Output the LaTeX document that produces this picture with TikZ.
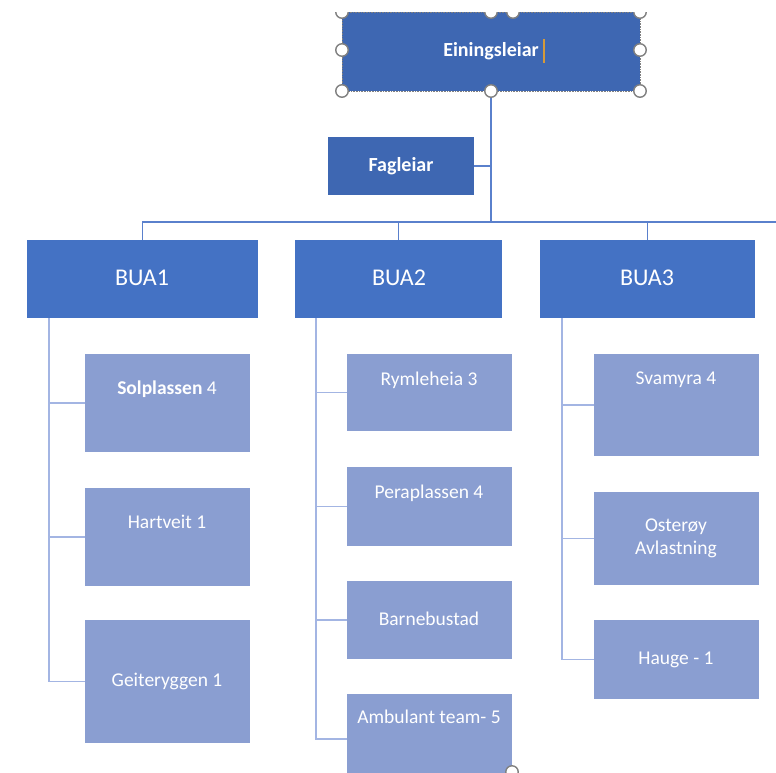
\documentclass[tikz,border=0pt]{standalone}
\usepackage{fontspec}
\setmainfont{Carlito}
\definecolor{leadblue}{HTML}{3E67B2}
\definecolor{buablue}{HTML}{4472C4}
\definecolor{childblue}{HTML}{8A9ED1}
\definecolor{mainline}{HTML}{5A80CC}
\definecolor{childline}{HTML}{A3B5E3}
\definecolor{handlegray}{HTML}{808080}
\definecolor{cursororange}{HTML}{D49A3A}
\begin{document}
\begin{tikzpicture}[x=1pt,y=-1pt,
  boxbase/.style={anchor=north west,inner sep=0pt,outer sep=0pt,draw=none},
  leadbox/.style={boxbase,fill=leadblue},
  buabox/.style={boxbase,fill=buablue},
  childbox/.style={boxbase,fill=childblue},
  leadtext/.style={text=white,font=\fontsize{20}{24}\selectfont\bfseries,inner sep=0pt},
  buatext/.style={text=white,font=\fontsize{24}{28}\selectfont,inner sep=0pt},
  childtext/.style={text=white,font=\fontsize{19.5}{24}\selectfont,inner sep=0pt,align=center},
  mainconn/.style={draw=mainline,line width=1.6pt},
  childconn/.style={draw=childline,line width=1.6pt},
  handle/.style={circle,draw=handlegray,fill=white,line width=1.4pt,minimum size=12.5pt,inner sep=0pt}]
\useasboundingbox (0,0) rectangle (776,772);
\fill[white] (0,0) rectangle (776,772);
\begin{scope}
\clip (0,12) rectangle (776,772);
% boxes
\node[leadbox,minimum width=298pt,minimum height=79pt] (ein) at (342,12) {};
\node[leadbox,minimum width=146pt,minimum height=58pt] (fag) at (328,137) {};
\node[buabox,minimum width=231pt,minimum height=78pt] (bua1) at (27,240) {};
\node[buabox,minimum width=207pt,minimum height=78pt] (bua2) at (295,240) {};
\node[buabox,minimum width=215pt,minimum height=78pt] (bua3) at (540,240) {};
\node[childbox,minimum width=165pt,minimum height=98pt] (sol) at (85,354) {};
\node[childbox,minimum width=165pt,minimum height=98pt] (hart) at (85,488) {};
\node[childbox,minimum width=165pt,minimum height=123pt] (geit) at (85,620) {};
\node[childbox,minimum width=165pt,minimum height=77pt] (rym) at (347,354) {};
\node[childbox,minimum width=165pt,minimum height=79pt] (pera) at (347,467) {};
\node[childbox,minimum width=165pt,minimum height=78pt] (barne) at (347,581) {};
\node[childbox,minimum width=165pt,minimum height=90pt] (amb) at (347,694) {};
\node[childbox,minimum width=165pt,minimum height=102pt] (svam) at (594,354) {};
\node[childbox,minimum width=165pt,minimum height=93pt] (oster) at (594,492) {};
\node[childbox,minimum width=165pt,minimum height=79pt] (hauge) at (594,620) {};
% texts
\node[leadtext] (teinl) at (491,51.5) {Einingsleiar};
\node[leadtext] (tfag) at (401,166) {Fagleiar};
\node[buatext] (tb1) at (142,278) {BUA1};
\node[buatext] (tb2) at (399,278) {BUA2};
\node[buatext] (tb3) at (647,278) {BUA3};
\node[childtext] (tsol) at (167,389) {\textbf{Solplassen} 4};
\node[childtext] (thart) at (167,521.5) {Hartveit 1};
\node[childtext] (tgeit) at (167,681.5) {Geiteryggen 1};
\node[childtext] (trym) at (429,380) {Rymleheia 3};
\node[childtext] (tpera) at (429,493) {Peraplassen 4};
\node[childtext] (tbarne) at (429,619) {Barnebustad};
\node[childtext] (tamb) at (429,717) {Ambulant team- 5};
\node[childtext] (tsvam) at (676,380) {Svamyra 4};
\node[childtext] (tost) at (676,538) {Osterøy\\[-1pt]Avlastning};
\node[childtext] (thauge) at (676,660) {Hauge - 1};
% cursor
\draw[cursororange,line width=1.5pt] ([xshift=5pt]teinl.east |- 0,39) -- ([xshift=5pt]teinl.east |- 0,63);
% connectors
\coordinate (hub) at (491,222);
\coordinate (busend) at (776,222);
\coordinate (s1) at (49,318);
\coordinate (s2) at (316,318);
\coordinate (s3) at (562,318);
\draw[mainconn] (ein.south) -- (hub);
\draw[mainconn] (fag.east) -| (hub);
\draw[mainconn] (bua1.north) |- (busend);
\draw[mainconn] (bua2.north) -- (bua2.north |- hub);
\draw[mainconn] (bua3.north) -- (bua3.north |- hub);
\draw[childconn] (s1) |- (sol.west);
\draw[childconn] (s1) |- (hart.west);
\draw[childconn] (s1) |- (geit.west);
\draw[childconn] (s2) |- (rym.west);
\draw[childconn] (s2) |- (pera.west);
\draw[childconn] (s2) |- (barne.west);
\draw[childconn] (s2) |- (amb.west);
\draw[childconn] (s3) |- (svam.west);
\draw[childconn] (s3) |- (oster.west);
\draw[childconn] (s3) |- (hauge.west);
% selection frame and handles
\draw[handlegray,densely dotted,line width=0.6pt] (ein.north west) rectangle (ein.south east);
\foreach \hx/\hy/\hn in {342/12/h1,491/12/h2,513/12/h3,640/12/h4,342/50/h5,640/50/h6,342/91/h7,491/91/h8,640/91/h9,512/772/h10}
  \node[handle] (\hn) at (\hx,\hy) {};
\end{scope}
\end{tikzpicture}
\end{document}
